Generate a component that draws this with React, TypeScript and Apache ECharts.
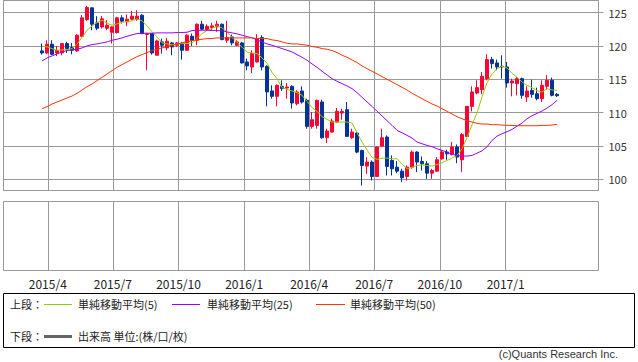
import React, { useEffect, useRef } from 'react';
import * as echarts from 'echarts';

// weekly candles, first week 2015-03-24
const opens = [119.25,118.95,120.25,118.95,118.95,120.35,119.75,119.25,121.45,123.95,125.7,123.45,122.85,122.65,122.05,122.0,124.2,123.6,124.0,124.0,124.6,121.7,121.85,118.6,120.6,119.7,120.45,120.1,120.35,119.35,121.45,120.85,123.25,122.45,122.75,122.85,123.25,120.85,121.35,120.1,120.45,117.6,116.85,117.6,121.25,116.95,113.25,112.45,113.95,113.7,113.95,111.35,113.25,111.85,107.95,108.1,111.6,106.25,107.1,108.6,109.95,110.45,106.25,106.95,104.35,102.0,102.6,100.45,105.0,106.35,102.85,101.85,101.25,100.45,101.85,104.1,102.7,102.35,100.95,101.25,103.1,104.1,103.75,104.85,102.95,106.45,110.95,112.95,113.45,115.1,117.95,117.45,116.95,116.85,114.45,114.35,115.1,112.35,113.35,112.85,112.1,113.95,114.85,112.75];
const closes = [118.95,120.25,118.75,119.35,120.35,119.6,119.35,121.6,124.2,125.75,123.25,122.65,124.05,123.1,122.85,124.2,123.7,124.0,124.45,124.45,121.85,121.85,118.95,120.75,120.1,120.7,119.85,120.45,119.35,121.6,120.85,123.25,122.5,122.95,123.0,123.25,120.95,121.25,120.45,120.6,117.45,117.0,118.85,121.1,116.85,113.1,112.45,114.1,113.6,113.85,111.45,113.1,111.6,107.95,108.95,111.85,106.25,107.25,108.75,110.2,110.2,106.45,107.1,104.1,102.1,102.6,100.45,104.85,106.25,101.95,101.6,101.25,100.25,101.85,104.1,102.6,102.35,100.95,101.35,102.95,104.1,103.85,104.85,103.35,106.75,110.95,113.1,113.75,115.45,117.95,117.35,116.85,116.85,114.45,114.75,115.1,112.6,113.25,112.75,112.1,114.1,114.85,112.6,112.55];
const lows = [118.7,118.75,118.6,118.5,118.6,118.95,118.75,119.1,121.35,123.75,122.35,122.35,122.6,122.35,120.35,121.85,123.35,122.95,123.85,123.75,121.75,116.35,118.7,118.6,118.85,119.35,118.6,119.85,117.95,119.25,120.0,120.1,122.35,122.25,122.35,122.1,120.85,120.45,120.1,120.0,117.35,116.35,115.95,117.5,116.35,110.95,112.1,110.95,113.25,112.1,110.6,111.1,111.35,107.6,107.6,107.6,106.1,105.45,106.95,108.45,108.95,106.35,106.1,103.95,99.1,100.85,99.85,100.35,104.85,100.6,100.6,100.95,99.6,99.85,101.6,101.1,101.35,100.1,100.1,101.1,102.95,102.95,103.6,102.45,101.1,106.35,110.2,112.75,112.75,114.85,116.6,116.35,115.1,113.75,112.45,112.6,112.1,111.6,112.25,111.85,111.6,113.45,112.45,112.35];
const highs = [120.35,120.85,120.85,120.0,120.45,120.6,120.45,121.75,124.6,126.0,125.75,124.45,124.5,123.85,122.95,124.35,124.6,124.7,125.25,125.35,124.75,121.95,121.95,120.95,121.1,121.2,120.6,120.6,120.6,121.75,121.85,123.35,123.75,123.25,123.45,123.75,123.35,123.75,121.7,120.85,120.6,118.1,119.35,121.75,121.6,117.1,114.1,114.25,114.85,114.45,114.1,113.35,113.95,112.1,110.1,111.95,111.95,107.6,109.1,110.7,110.6,111.6,107.6,107.1,104.45,103.35,102.85,104.95,107.6,106.6,103.6,102.75,101.6,102.1,104.35,104.25,103.45,102.75,101.6,103.35,104.35,104.45,105.6,105.25,106.95,110.95,113.95,114.85,116.1,118.75,118.35,117.95,118.6,117.6,115.1,115.35,115.25,113.95,114.95,113.75,114.85,115.6,115.25,112.95];
const ma5 = [119.95,119.85,119.6,119.35,119.4,119.45,119.6,120.25,121.3,122.35,123.0,123.5,123.85,123.4,123.1,123.3,123.55,123.65,123.75,124.05,123.75,123.0,122.1,121.35,120.45,120.3,120.2,120.25,120.35,120.35,120.45,121.1,121.85,122.3,122.6,123.0,122.7,122.1,121.3,120.5,119.8,119.1,118.95,118.85,118.2,117.4,116.0,115.1,113.75,113.5,113.25,113.0,112.6,111.7,110.75,110.2,109.4,109.0,108.6,108.6,108.6,108.6,108.45,107.0,105.6,104.4,103.3,103.0,103.2,103.2,103.1,103.1,102.3,101.6,101.8,102.1,102.2,102.1,102.0,102.25,102.5,102.85,103.2,103.6,104.6,106.3,108.2,110.0,112.4,114.5,115.8,116.6,116.95,116.7,115.9,115.3,114.6,114.1,113.75,113.3,113.1,113.6,113.4,113.35];
const ma25 = [117.75,118.2,118.5,118.8,119.1,119.3,119.4,119.5,119.7,120.0,120.2,120.3,120.45,120.6,120.85,121.0,121.2,121.45,121.65,121.85,121.9,121.9,121.9,121.95,121.95,121.95,121.95,122.0,122.0,122.05,122.3,122.35,122.35,122.35,122.3,122.3,122.25,122.1,121.95,121.8,121.6,121.4,121.2,120.9,120.6,120.3,120.1,119.85,119.6,119.35,119.1,118.7,118.3,117.85,117.3,116.8,116.2,115.65,115.1,114.7,114.35,114.0,113.6,113.0,112.3,111.6,110.95,110.2,109.5,108.8,108.1,107.35,107.0,106.6,106.2,105.6,105.35,105.1,104.9,104.6,104.35,104.1,103.75,103.6,103.5,103.5,103.6,103.95,104.3,104.9,105.85,106.5,106.85,107.15,107.5,108.0,108.45,109.1,109.55,109.9,110.25,110.7,111.2,111.85];
const ma50 = [110.6,110.9,111.3,111.6,111.9,112.2,112.5,112.9,113.4,113.9,114.3,114.8,115.3,115.8,116.3,116.8,117.2,117.6,118.0,118.4,118.7,119.0,119.3,119.5,119.7,119.9,120.1,120.2,120.5,120.6,120.8,120.9,121.0,121.1,121.1,121.2,121.2,121.2,121.2,121.2,121.2,121.2,121.2,121.1,121.1,121.1,120.9,120.8,120.6,120.4,120.3,120.3,120.2,120.1,119.9,119.8,119.6,119.5,119.3,119.0,118.6,118.3,117.9,117.5,117.0,116.6,116.2,115.8,115.4,115.0,114.6,114.2,113.8,113.4,112.9,112.5,112.1,111.7,111.3,111.0,110.6,110.2,109.8,109.4,109.1,108.8,108.6,108.4,108.3,108.3,108.2,108.2,108.15,108.1,108.1,108.05,108.05,108.05,108.05,108.05,108.1,108.1,108.15,108.25];

const quarterYears = [2015, 2015, 2015, 2016, 2016, 2016, 2016, 2017];
const quarterMonths = [4, 7, 10, 1, 4, 7, 10, 1];
const quarterLabels = ['2015/4', '2015/7', '2015/10', '2016/1', '2016/4', '2016/7', '2016/10', '2017/1'];

const UP = '#ff0033';
const DOWN = '#003399';
const GRID = '#999999';

export default function App() {
  const ref = useRef<HTMLDivElement>(null);
  useEffect(() => {
    if (!ref.current) return;
    const chart = echarts.init(ref.current, undefined, { renderer: 'svg' });
    const dates = opens.map((_, i) => new Date(2015, 2, 24 + 7 * i).getTime());
    const xMin = new Date(2015, 0, 29).getTime();
    const xMax = new Date(2017, 4, 11).getTime();
    const qTimes = quarterYears.map((y, i) => new Date(y, quarterMonths[i] - 1, 1).getTime());
    const candle = dates.map((d, i) => [d, opens[i], closes[i], lows[i], highs[i]]);
    const line = (arr: number[]) => dates.map((d, i) => [d, arr[i]]);
    const font = '"Noto Sans CJK JP", "Liberation Sans", sans-serif';
    const legendY1 = 304;
    const legendY2 = 336;
    const txt = (x: number, y: number, text: string) => ({
      type: 'text', x, y,
      style: { text, font: '11px ' + font, fill: '#222', textVerticalAlign: 'middle' },
    });
    const seg = (x1: number, x2: number, y: number, color: string, w: number) => ({
      type: 'line', shape: { x1, y1: y + 0.5, x2, y2: y + 0.5 }, style: { stroke: color, lineWidth: w },
    });
    chart.setOption({
      animation: false,
      backgroundColor: '#fff',
      grid: [
        { left: 3.5, top: 0.5, width: 595, height: 190, show: true, borderColor: GRID, borderWidth: 1, backgroundColor: 'transparent' },
        { left: 3.5, top: 201.5, width: 595, height: 69, show: true, borderColor: GRID, borderWidth: 1, backgroundColor: 'transparent' },
      ],
      xAxis: [
        { type: 'time', gridIndex: 0, min: xMin, max: xMax, axisLabel: { show: false }, axisTick: { show: false }, axisLine: { show: false }, splitLine: { show: false } },
        { type: 'time', gridIndex: 1, min: xMin, max: xMax, axisLabel: { show: false }, axisTick: { show: false }, axisLine: { show: false }, splitLine: { show: false } },
      ],
      yAxis: [
        {
          type: 'value', gridIndex: 0, position: 'right', min: 98.35, max: 126.8, scale: true,
          axisLine: { show: false },
          axisTick: { show: true, length: 5, lineStyle: { color: GRID } },
          axisLabel: { color: '#333', fontSize: 11, fontFamily: font, margin: 10, showMinLabel: false, showMaxLabel: false },
          splitLine: { show: true, lineStyle: { color: GRID, width: 1 } },
        },
        { type: 'value', gridIndex: 1, min: 0, max: 1, show: false },
      ],
      series: [
        {
          type: 'candlestick', xAxisIndex: 0, yAxisIndex: 0, z: 3,
          encode: { x: 0, y: [1, 2, 3, 4] },
          barWidth: 3,
          itemStyle: { color: UP, color0: DOWN, borderColor: UP, borderColor0: DOWN, borderWidth: 1 },
          data: candle,
          markLine: {
            silent: true, z: 1, symbol: ['none', 'none'],
            lineStyle: { color: GRID, type: 'solid', width: 1 },
            label: { show: false },
            data: qTimes.map((t) => ({ xAxis: t })),
          },
        },
        { type: 'line', name: 'MA5', data: line(ma5), showSymbol: false, symbol: 'none', z: 4, lineStyle: { color: '#99cc00', width: 1 } },
        { type: 'line', name: 'MA25', data: line(ma25), showSymbol: false, symbol: 'none', z: 4, lineStyle: { color: '#9900ff', width: 1 } },
        { type: 'line', name: 'MA50', data: line(ma50), showSymbol: false, symbol: 'none', z: 4, lineStyle: { color: '#ff3300', width: 1 } },
        {
          type: 'line', xAxisIndex: 1, yAxisIndex: 1, data: [], symbol: 'none',
          markLine: {
            silent: true, z: 1, symbol: ['none', 'none'],
            lineStyle: { color: GRID, type: 'solid', width: 1 },
            label: { show: true, position: 'start', distance: 7, color: '#222', fontSize: 12, fontFamily: font, formatter: '{b}' },
            data: qTimes.map((t, i) => ({ xAxis: t, name: quarterLabels[i] })),
          },
        },
      ],
      graphic: [
        { type: 'rect', shape: { x: 3.5, y: 293.5, width: 631, height: 54 }, style: { fill: '#fff', stroke: '#000', lineWidth: 1 } },
        txt(10, legendY1, '上段：'),
        seg(44, 72, legendY1, '#99cc00', 1),
        txt(78, legendY1, '単純移動平均(5)'),
        seg(172, 200, legendY1, '#9900ff', 1),
        txt(207, legendY1, '単純移動平均(25)'),
        seg(316, 345, legendY1, '#ff3300', 1),
        txt(350, legendY1, '単純移動平均(50)'),
        txt(10, legendY2, '下段：'),
        seg(44, 72, legendY2, '#666666', 3),
        txt(78, legendY2, '出来高 単位:(株/口/枚)'),
        { type: 'text', x: 618, y: 354, style: { text: '(c)Quants Research Inc.', font: '11px "Liberation Sans", "DejaVu Sans", sans-serif', fill: '#333', textAlign: 'right', textVerticalAlign: 'middle' } },
      ],
    });
    return () => chart.dispose();
  }, []);
  return <div ref={ref} style={{ position: 'fixed', left: 0, top: 0, width: 638, height: 362 }} />;
}
